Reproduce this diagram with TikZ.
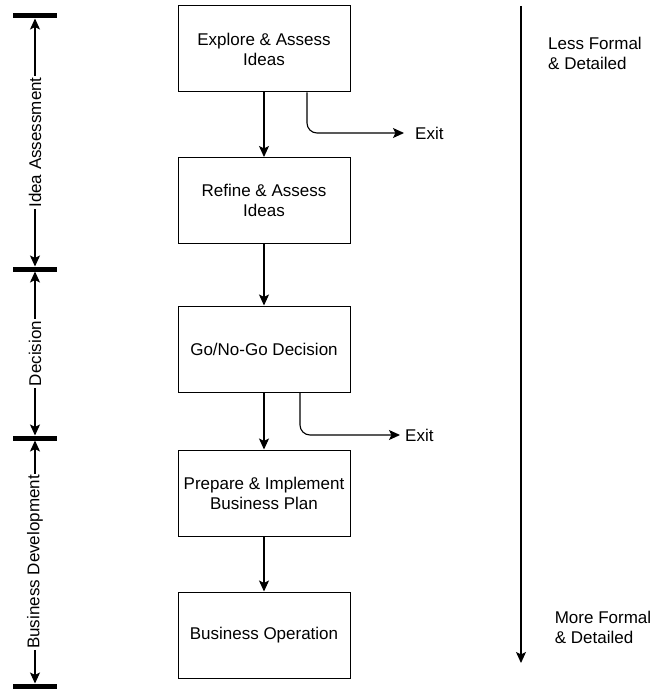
\documentclass[tikz,border=0pt]{standalone}
\usepackage{fontspec}
\setmainfont{Liberation Sans}
\usetikzlibrary{arrows.meta}
\begin{document}
\begin{tikzpicture}[x=1pt,y=-1pt,
  font=\fontsize{17}{20}\selectfont,
  box/.style={draw, line width=1pt, minimum width=172pt, minimum height=86pt, align=center, inner sep=2pt},
  arr/.style={-{Stealth[length=11pt,width=10pt,inset=2.5pt]}, line width=1.1pt},
  dbl/.style={{Stealth[length=11pt,width=10pt,inset=2.5pt]}-{Stealth[length=11pt,width=10pt,inset=2.5pt]}, line width=1.1pt, shorten <=2.5pt, shorten >=2.5pt},
  bar/.style={line width=5pt},
  axislabel/.style={rotate=90, fill=white, inner sep=1.5pt},
  side/.style={align=left, inner sep=0pt}]
\useasboundingbox (0,0) rectangle (659,690);

% boxes
\node[box] (b1) at (264,49) {Explore \& Assess\\Ideas};
\node[box] (b2) at (264,200.5) {Refine \& Assess\\Ideas};
\node[box] (b3) at (264,349) {Go/No-Go Decision};
\node[box] (b4) at (264,493) {Prepare \& Implement\\Business Plan};
\node[box] (b5) at (264,635) {Business Operation};

% main flow
\draw[arr] (b1) -- (b2);
\draw[arr] (b2) -- (b3);
\draw[arr] (b3) -- (b4);
\draw[arr] (b4) -- (b5);

% exits
\node[anchor=west, inner sep=0pt] (e1) at (415,133) {Exit};
\node[anchor=west, inner sep=0pt] (e2) at (405,435) {Exit};
\draw[arr, rounded corners=10pt] ([xshift=43pt]b1.south) |- ([xshift=-11pt]e1.west);
\draw[arr, rounded corners=10pt] ([xshift=36pt]b3.south) |- ([xshift=-5pt]e2.west);

% left axis
\coordinate (t1) at (35,16);
\coordinate (t2) at (35,269);
\coordinate (t3) at (35,438);
\coordinate (t4) at (35,686);
\foreach \t in {t1,t2,t3,t4} \draw[bar] ([xshift=-22pt]\t) -- ([xshift=22pt]\t);
\draw[dbl] (t1) -- node[axislabel] {Idea Assessment} (t2);
\draw[dbl] (t2) -- node[axislabel] {Decision} (t3);
\draw[dbl] (t3) -- node[axislabel] {Business Development} (t4);

% right formality axis
\coordinate (rtop) at (521,6);
\coordinate (rbot) at (521,663);
\draw[arr] (rtop) -- (rbot);
\node[side] (less) at (595,53) {Less Formal\\\& Detailed};
\node[side] (more) at (603,627) {More Formal\\\& Detailed};
\end{tikzpicture}
\end{document}
